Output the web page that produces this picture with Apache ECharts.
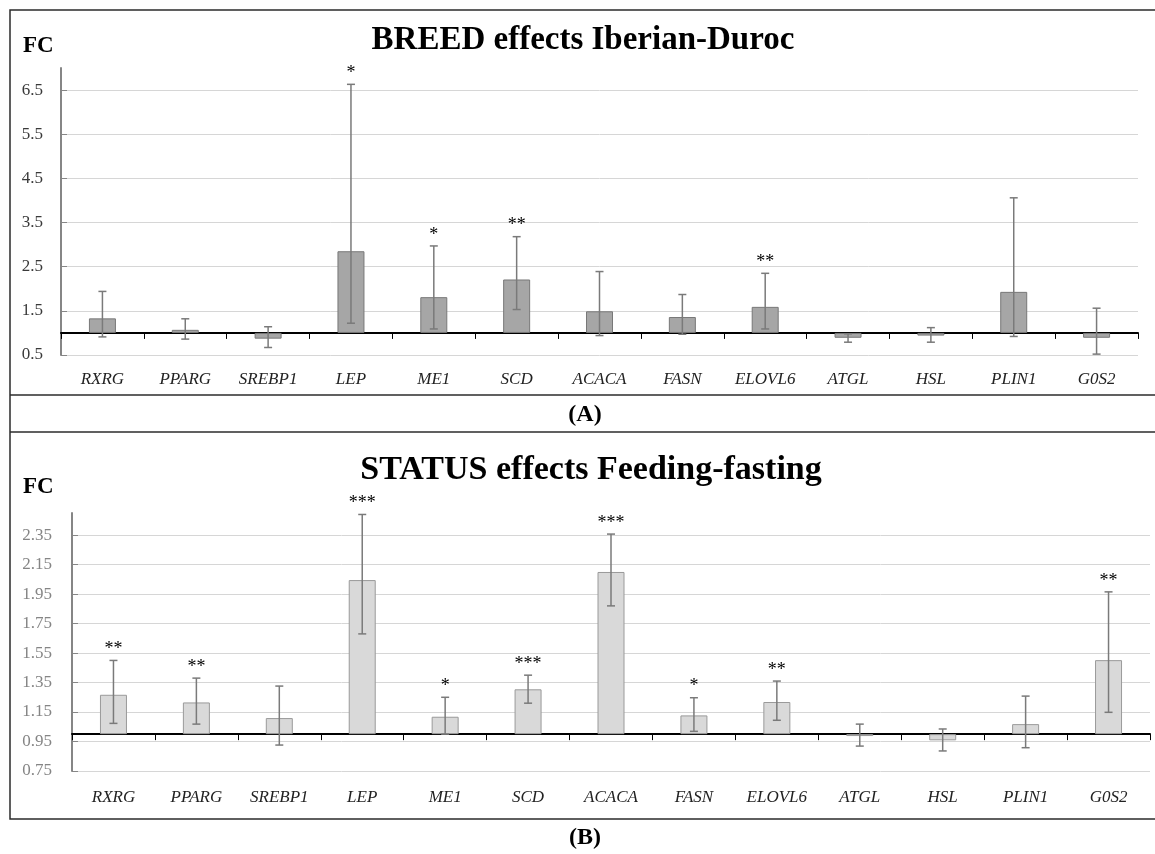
<!DOCTYPE html>
<html>
<head>
<meta charset="utf-8">
<script src="https://cdn.jsdelivr.net/npm/echarts@6/dist/echarts.min.js"></script>
<style>
  html, body { margin: 0; padding: 0; background: #fff; }
  #main { width: 1155px; height: 854px; }
</style>
</head>
<body>
<div id="main"></div>
<script>
// genes on the x axis (same order in both panels)
var genes = ['RXRG', 'PPARG', 'SREBP1', 'LEP', 'ME1', 'SCD', 'ACACA', 'FASN', 'ELOVL6', 'ATGL', 'HSL', 'PLIN1', 'G0S2'];

// (A) BREED effects Iberian-Duroc, fold change + error bar ends
var breedFC   = [1.33, 1.07, 0.87, 2.85, 1.81, 2.21, 1.49, 1.36, 1.59, 0.89, 0.94, 1.93, 0.89];
var breedLow  = [0.91, 0.86, 0.67, 1.22, 1.09, 1.53, 0.94, 0.97, 1.09, 0.79, 0.79, 0.92, 0.52];
var breedHigh = [1.94, 1.32, 1.14, 6.63, 2.97, 3.18, 2.39, 1.87, 2.35, 0.98, 1.12, 4.06, 1.56];
var breedSig  = ['', '', '', '*', '*', '**', '', '', '**', '', '', '', ''];

// (B) STATUS effects Feeding-fasting
var statusFC   = [1.267, 1.215, 1.109, 2.045, 1.118, 1.304, 2.10, 1.127, 1.218, 0.987, 0.958, 1.068, 1.502];
var statusLow  = [1.073, 1.068, 0.926, 1.68, 1.0, 1.21, 1.87, 1.019, 1.094, 0.919, 0.886, 0.908, 1.148];
var statusHigh = [1.50, 1.38, 1.326, 2.49, 1.25, 1.40, 2.357, 1.247, 1.36, 1.068, 1.035, 1.258, 1.965];
var statusSig  = ['**', '**', '', '***', '*', '***', '***', '*', '**', '', '', '', '**'];

// y axis ranges and tick steps
var breedMin = 0.5, breedMax = 7.0, breedStep = 1;
var statusMin = 0.75, statusMax = 2.5, statusStep = 0.2;

// bars hang from FC = 1, so data are drawn on a hidden axis measured as FC - 1
var BASE = 1;
function shift(arr) { return arr.map(function (v) { return +(v - BASE).toFixed(4); }); }

var serif = '"Liberation Serif", "DejaVu Serif", serif';

function errorBars(sig) {
  return function (params, api) {
    var x = api.value(0);
    var lo = api.coord([x, api.value(1)]);
    var hi = api.coord([x, api.value(2)]);
    var cap = 4;
    var st = { stroke: '#7a7a7a', lineWidth: 1.5 };
    var kids = [
      { type: 'line', shape: { x1: hi[0], y1: hi[1], x2: lo[0], y2: lo[1] }, style: st },
      { type: 'line', shape: { x1: hi[0] - cap, y1: hi[1], x2: hi[0] + cap, y2: hi[1] }, style: st },
      { type: 'line', shape: { x1: lo[0] - cap, y1: lo[1], x2: lo[0] + cap, y2: lo[1] }, style: st }
    ];
    var s = sig[params.dataIndex];
    if (s) {
      kids.push({
        type: 'text', x: hi[0], y: hi[1] - 2,
        style: { text: s, align: 'center', verticalAlign: 'bottom', font: '18px ' + serif, fill: '#000' }
      });
    }
    return { type: 'group', children: kids };
  };
}

function errData(low, high) {
  return genes.map(function (g, i) { return [i, low[i] - BASE, high[i] - BASE]; });
}

var chart = echarts.init(document.getElementById('main'), null, { renderer: 'canvas' });

var option = {
  animation: false,
  grid: [
    { left: 61, right: 17, top: 68, bottom: 499 },
    { left: 72, right: 5, top: 513, bottom: 83 }
  ],
  xAxis: [
    // baseline at FC = 1 with boundary ticks
    {
      type: 'category', gridIndex: 0, data: genes, position: 'bottom',
      axisLine: { onZero: true, onZeroAxisIndex: 1, lineStyle: { color: '#000', width: 2 } },
      axisTick: { show: true, length: 6, lineStyle: { color: '#000', width: 1 } },
      axisLabel: { show: false }, splitLine: { show: false }
    },
    // gene names at the bottom
    {
      type: 'category', gridIndex: 0, data: genes, position: 'bottom',
      axisLine: { show: false, onZero: false }, axisTick: { show: false },
      axisLabel: { margin: 16, fontFamily: serif, fontStyle: 'italic', fontSize: 17, color: '#222' }
    },
    {
      type: 'category', gridIndex: 1, data: genes, position: 'bottom',
      axisLine: { onZero: true, onZeroAxisIndex: 3, lineStyle: { color: '#000', width: 2 } },
      axisTick: { show: true, length: 6, lineStyle: { color: '#000', width: 1 } },
      axisLabel: { show: false }, splitLine: { show: false }
    },
    {
      type: 'category', gridIndex: 1, data: genes, position: 'bottom',
      axisLine: { show: false, onZero: false }, axisTick: { show: false },
      axisLabel: { margin: 18, fontFamily: serif, fontStyle: 'italic', fontSize: 17, color: '#222' }
    }
  ],
  yAxis: [
    // visible label axis, counted from 0 so the ticks land on the printed values
    {
      type: 'value', gridIndex: 0, min: 0, max: breedMax - breedMin, interval: breedStep,
      axisLine: { show: true, lineStyle: { color: '#868686', width: 2 } },
      axisTick: { show: true, inside: true, length: 6, lineStyle: { color: '#868686' } },
      axisLabel: {
        margin: 18, fontFamily: serif, fontSize: 17, color: '#3a3a3a', showMaxLabel: false,
        formatter: function (v) { return (v + breedMin).toFixed(1); }
      },
      splitLine: { show: true, showMaxLine: false, lineStyle: { color: '#d6d6d6', width: 1 } }
    },
    { type: 'value', gridIndex: 0, min: breedMin - BASE, max: breedMax - BASE, show: false, splitLine: { show: false } },
    {
      type: 'value', gridIndex: 1, min: 0, max: statusMax - statusMin, interval: statusStep,
      axisLine: { show: true, lineStyle: { color: '#868686', width: 2 } },
      axisTick: { show: true, inside: true, length: 6, lineStyle: { color: '#868686' } },
      axisLabel: {
        margin: 20, fontFamily: serif, fontSize: 17, color: '#858585', showMaxLabel: false,
        formatter: function (v) { return (v + statusMin).toFixed(2); }
      },
      splitLine: { show: true, showMaxLine: false, lineStyle: { color: '#d6d6d6', width: 1 } }
    },
    { type: 'value', gridIndex: 1, min: statusMin - BASE, max: statusMax - BASE, show: false, splitLine: { show: false } }
  ],
  series: [
    {
      name: 'BREED', type: 'bar', xAxisIndex: 0, yAxisIndex: 1, data: shift(breedFC),
      barWidth: 27, itemStyle: { color: '#a6a6a6', borderColor: '#787878', borderWidth: 1 }
    },
    {
      name: 'BREED err', type: 'custom', xAxisIndex: 0, yAxisIndex: 1,
      data: errData(breedLow, breedHigh), renderItem: errorBars(breedSig), z: 5
    },
    {
      name: 'STATUS', type: 'bar', xAxisIndex: 2, yAxisIndex: 3, data: shift(statusFC),
      barWidth: 27, itemStyle: { color: '#d9d9d9', borderColor: '#9a9a9a', borderWidth: 1 }
    },
    {
      name: 'STATUS err', type: 'custom', xAxisIndex: 2, yAxisIndex: 3,
      data: errData(statusLow, statusHigh), renderItem: errorBars(statusSig), z: 5
    }
  ],
  graphic: [
    // panel frames
    { type: 'rect', shape: { x: 10, y: 10, width: 1160, height: 809 }, style: { fill: 'none', stroke: '#2b2b2b', lineWidth: 1.5 }, silent: true },
    { type: 'line', shape: { x1: 10, y1: 395, x2: 1160, y2: 395 }, style: { stroke: '#2b2b2b', lineWidth: 1.5 }, silent: true },
    { type: 'line', shape: { x1: 10, y1: 432, x2: 1160, y2: 432 }, style: { stroke: '#2b2b2b', lineWidth: 1.5 }, silent: true },
    // titles and labels
    { type: 'text', x: 583, y: 40, style: { text: 'BREED effects Iberian-Duroc', font: 'bold 33px ' + serif, fill: '#000', align: 'center', verticalAlign: 'middle' } },
    { type: 'text', x: 23, y: 46, style: { text: 'FC', font: 'bold 23px ' + serif, fill: '#000', align: 'left', verticalAlign: 'middle' } },
    { type: 'text', x: 585, y: 415, style: { text: '(A)', font: 'bold 24px ' + serif, fill: '#000', align: 'center', verticalAlign: 'middle' } },
    { type: 'text', x: 591, y: 470, style: { text: 'STATUS effects Feeding-fasting', font: 'bold 34px ' + serif, fill: '#000', align: 'center', verticalAlign: 'middle' } },
    { type: 'text', x: 23, y: 487, style: { text: 'FC', font: 'bold 23px ' + serif, fill: '#000', align: 'left', verticalAlign: 'middle' } },
    { type: 'text', x: 585, y: 838, style: { text: '(B)', font: 'bold 24px ' + serif, fill: '#000', align: 'center', verticalAlign: 'middle' } }
  ]
};

chart.setOption(option);
</script>
</body>
</html>
